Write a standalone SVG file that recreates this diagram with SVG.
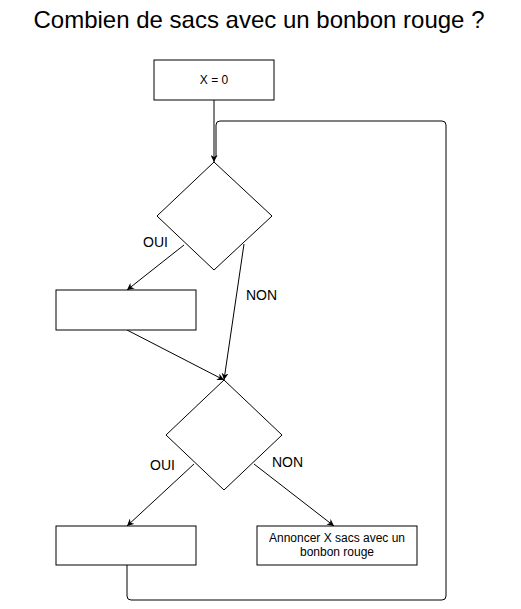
<svg xmlns="http://www.w3.org/2000/svg" width="521" height="609" viewBox="0 0 521 609">
<style>
.box{fill:#fff;stroke:#000;stroke-width:1}
.lbl{font-family:"Liberation Sans",Arial,sans-serif;font-size:12px;fill:#000;text-anchor:middle}
.edge{fill:none;stroke:#000;stroke-width:1}
.elbl{font-family:"Liberation Sans",Arial,sans-serif;font-size:14px;fill:#000}
</style>
<defs>
<marker id="arr" viewBox="0 0 10 10" refX="10" refY="5" markerWidth="7" markerHeight="7" markerUnits="userSpaceOnUse" orient="auto">
<path d="M0,0 L10,5 L0,10 L3,5 Z" fill="#000"/>
</marker>
</defs>
<rect width="521" height="609" fill="#fff"/>
<text x="259" y="28" font-family="'Liberation Sans',Arial,sans-serif" font-size="24" text-anchor="middle" fill="#000">Combien de sacs avec un bonbon rouge ?</text>
<g id="connectors">
<path class="edge" d="M127,565 L127,596 Q127,600 131,600 L442,600 Q446,600 446,596 L446,125 Q446,121 442,121 L220,121 Q216,121 216,125 L216,157"/>
<path class="edge" d="M214,100 L214,162" marker-end="url(#arr)"/>
<path class="edge" d="M184,245 L127,290" marker-end="url(#arr)"/>
<path class="edge" d="M244,244 L224,380" marker-end="url(#arr)"/>
<path class="edge" d="M127,330 L224,380" marker-end="url(#arr)"/>
<path class="edge" d="M194,464 L127,526" marker-end="url(#arr)"/>
<path class="edge" d="M254,464 L334,526" marker-end="url(#arr)"/>
<text class="elbl" x="143" y="247">OUI</text>
<text class="elbl" x="246" y="300">NON</text>
<text class="elbl" x="150" y="470">OUI</text>
<text class="elbl" x="272" y="467">NON</text>
</g>
<g id="start">
<rect class="box" x="154" y="60" width="120" height="40"/>
<text class="lbl" x="214" y="84">X = 0</text>
</g>
<g id="decision1">
<polygon class="box" points="214,162 272,216 214,270 157,216"/>
</g>
<g id="action1">
<rect class="box" x="56" y="290" width="140" height="40"/>
</g>
<g id="decision2">
<polygon class="box" points="224,380 282,435 224,490 166,435"/>
</g>
<g id="action2">
<rect class="box" x="56" y="526" width="140" height="39"/>
</g>
<g id="announce">
<rect class="box" x="257" y="526" width="160" height="39"/>
<text class="lbl" x="337" y="542">Annoncer X sacs avec un</text>
<text class="lbl" x="337" y="556">bonbon rouge</text>
</g>
</svg>
